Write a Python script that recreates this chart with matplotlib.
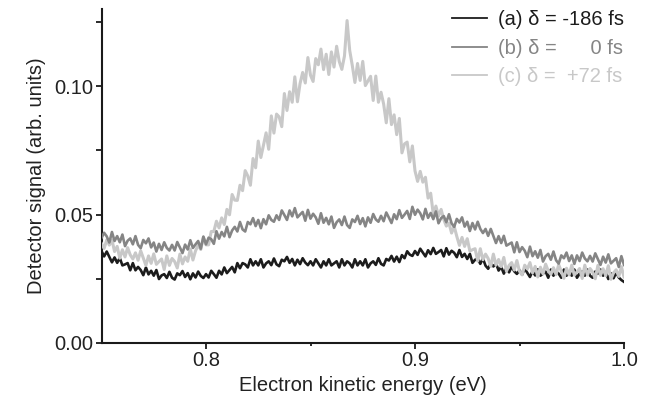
import numpy as np
import matplotlib
matplotlib.use("Agg")
import matplotlib.pyplot as plt
from matplotlib.lines import Line2D

plt.rcParams['font.family'] = ['Liberation Sans', 'DejaVu Sans']

# energy grid (eV), 0.00125 eV steps from 0.75 to 1.00
energy = np.linspace(0.75, 1.0, 201)

# detector signals, in units of 1e-4 (arb. units)
# (a) delta = -186 fs
signal_a = [358, 337, 356, 335, 314, 333, 312, 331, 302, 306, 311, 283, 311, 283, 296, 284,
            264, 294, 267, 281, 262, 284, 249, 263, 268, 253, 277, 254, 247, 271, 264, 280,
            257, 272, 248, 271, 255, 278, 261, 253, 268, 255, 281, 268, 254, 281, 267, 294,
            272, 284, 296, 275, 311, 291, 311, 306, 294, 326, 302, 318, 302, 326, 294, 310,
            318, 303, 329, 306, 299, 324, 318, 335, 312, 327, 302, 324, 307, 330, 313, 303,
            318, 302, 326, 310, 294, 318, 302, 326, 302, 310, 318, 294, 326, 302, 318, 310,
            294, 326, 302, 318, 302, 326, 294, 310, 318, 304, 330, 308, 302, 327, 321, 339,
            317, 336, 315, 342, 330, 357, 344, 339, 358, 343, 367, 352, 337, 361, 346, 370,
            347, 354, 362, 337, 369, 344, 359, 351, 334, 362, 335, 347, 327, 347, 312, 324,
            328, 308, 329, 301, 289, 309, 298, 310, 282, 296, 270, 292, 275, 297, 279, 269,
            283, 266, 290, 273, 257, 280, 263, 287, 262, 270, 278, 254, 286, 262, 278, 270,
            254, 286, 262, 278, 262, 286, 254, 270, 278, 262, 286, 262, 254, 278, 270, 286,
            262, 276, 249, 271, 252, 274, 255, 245, 238]

# (b) delta = 0 fs
signal_b = [409, 429, 415, 391, 432, 397, 416, 392, 422, 377, 398, 407, 384, 416, 382, 369,
            401, 388, 407, 372, 391, 356, 386, 362, 392, 370, 360, 382, 360, 393, 372, 350,
            383, 364, 400, 370, 384, 397, 367, 414, 384, 410, 404, 386, 435, 406, 432, 415,
            452, 412, 438, 452, 434, 471, 442, 434, 471, 462, 486, 455, 479, 447, 482, 462,
            497, 479, 472, 497, 479, 516, 498, 479, 516, 493, 525, 489, 500, 510, 476, 518,
            484, 503, 489, 464, 505, 468, 487, 462, 492, 448, 470, 481, 459, 492, 459, 448,
            481, 471, 495, 463, 486, 454, 489, 468, 502, 481, 472, 495, 474, 508, 488, 467,
            501, 482, 517, 487, 500, 514, 483, 530, 499, 519, 505, 481, 522, 487, 506, 482,
            512, 466, 486, 494, 470, 501, 466, 452, 483, 469, 489, 453, 472, 436, 467, 442,
            472, 444, 428, 444, 417, 444, 416, 389, 416, 389, 417, 379, 385, 391, 353, 392,
            354, 373, 359, 334, 375, 338, 357, 332, 362, 317, 338, 347, 324, 356, 322, 309,
            341, 330, 352, 319, 341, 308, 341, 319, 352, 329, 318, 339, 317, 349, 326, 304,
            336, 313, 345, 310, 320, 330, 296, 338, 304]

# (c) delta = +72 fs
signal_c = [387, 368, 401, 381, 401, 356, 376, 330, 363, 335, 371, 343, 327, 351, 322, 359,
            330, 302, 339, 310, 347, 306, 317, 327, 286, 339, 302, 329, 317, 292, 346, 308,
            335, 318, 366, 323, 359, 381, 364, 412, 382, 382, 434, 434, 474, 448, 487, 461,
            520, 499, 578, 556, 555, 614, 593, 671, 650, 614, 718, 682, 786, 722, 770, 818,
            754, 884, 817, 891, 880, 842, 971, 905, 978, 937, 1036, 939, 1010, 1053, 1012, 1111,
            1042, 1018, 1107, 1083, 1144, 1064, 1124, 1045, 1133, 1074, 1155, 1096, 1065, 1117, 1255, 1139,
            1080, 1014, 1088, 1022, 1096, 1002, 1020, 1038, 944, 1039, 937, 976, 930, 857, 951, 850,
            888, 811, 874, 740, 775, 782, 705, 767, 670, 629, 668, 626, 645, 564, 583, 501,
            533, 494, 520, 481, 455, 467, 428, 454, 415, 380, 411, 376, 406, 358, 363, 367,
            319, 367, 324, 346, 329, 298, 346, 303, 325, 297, 333, 279, 302, 313, 284, 321,
            279, 265, 303, 288, 313, 273, 298, 257, 295, 269, 307, 281, 267, 293, 266, 305,
            278, 252, 291, 265, 303, 264, 277, 290, 251, 303, 264, 290, 276, 250, 302, 263,
            289, 262, 301, 248, 273, 285, 259, 297, 257]

labels = ["(a) \u03b4 = -186 fs", "(b) \u03b4 =      0 fs", "(c) \u03b4 =  +72 fs"]
colors = ["#1c1c1c", "#858585", "#c8c8c8"]

fig = plt.figure(figsize=(6.49, 4.07), dpi=100)
ax = fig.add_axes([101.5 / 649, 1 - 343 / 407, 522.5 / 649, 334 / 407])

ax.plot(energy, np.array(signal_a) / 1e4, color=colors[0], lw=1.9, zorder=2)
ax.plot(energy, np.array(signal_c) / 1e4, color=colors[2], lw=2.2, zorder=3)
ax.plot(energy, np.array(signal_b) / 1e4, color=colors[1], lw=1.9, zorder=4)

ax.set_xlim(0.75, 1.0)
ax.set_ylim(0, 0.13)
ax.set_xticks([0.8, 0.9, 1.0])
ax.set_xticklabels(["0.8", "0.9", "1.0"])
ax.set_xticks([0.85, 0.95], minor=True)
ax.set_yticks([0.0, 0.05, 0.10])
ax.set_yticklabels(["0.00", "0.05", "0.10"])
ax.set_yticks([0.025, 0.075, 0.125], minor=True)

for side in ["top", "right"]:
    ax.spines[side].set_visible(False)
for side in ["left", "bottom"]:
    ax.spines[side].set_linewidth(1.5)
    ax.spines[side].set_color("#1a1a1a")

fs = 14.5
ax.tick_params(which="major", direction="out", length=4, width=1.3,
               labelsize=fs, colors="#1a1a1a", labelcolor="#222222", pad=2)
ax.tick_params(axis="x", which="minor", direction="out", length=2.5, width=1.3, colors="#1a1a1a")
ax.tick_params(axis="y", which="minor", direction="out", length=4, width=1.3, colors="#1a1a1a")

ax.set_xlabel("Electron kinetic energy (eV)", fontsize=fs, color="#222222", labelpad=4)
ax.set_ylabel("Detector signal (arb. units)", fontsize=fs, color="#222222", labelpad=6)

handles = [Line2D([], [], color=c, lw=1.3) for c in colors]
leg = fig.legend(handles, labels, loc="upper right", frameon=False,
                 bbox_to_anchor=(634 / 649, 1.0), borderpad=0,
                 fontsize=fs, handlelength=1.75, handletextpad=0.55,
                 labelspacing=0.48)
for txt, c in zip(leg.get_texts(), colors):
    txt.set_color(c)

fig.savefig("out.png", dpi=100)
